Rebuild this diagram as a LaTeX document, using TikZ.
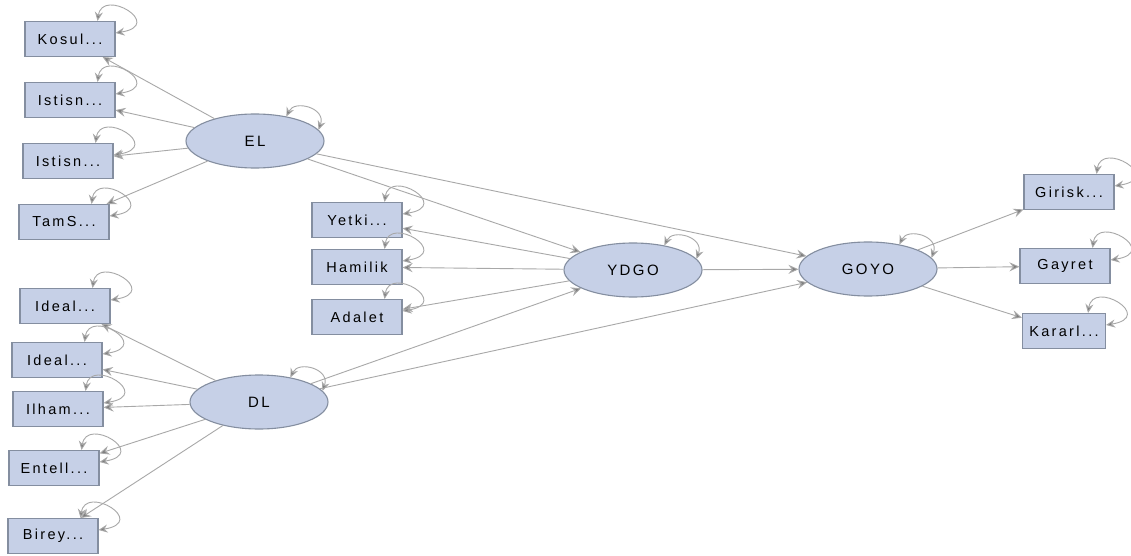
\documentclass[tikz,border=0pt]{standalone}
\usepackage{fontspec}
\setmainfont{Liberation Sans}
\usetikzlibrary{arrows.meta,shapes.geometric}
\definecolor{nodefill}{RGB}{198,208,231}
\definecolor{nodeline}{RGB}{132,142,160}
\definecolor{edgegray}{RGB}{168,168,168}
\newfontfamily\labelfont[LetterSpace=16]{Liberation Sans}
\tikzset{
  obsbox/.style={draw=nodeline, line width=1.1pt, fill=nodefill, rectangle,
    minimum width=90pt, minimum height=35pt, inner sep=0pt,
    font=\labelfont\fontsize{14.5}{16}\selectfont},
  latent/.style={draw=nodeline, line width=1.1pt, fill=nodefill, ellipse,
    minimum width=138pt, minimum height=54pt, inner sep=0pt,
    font=\labelfont\fontsize{15}{17}\selectfont},
  loading/.style={draw=edgegray, line width=0.9pt,
    -{Stealth[length=10pt,width=9pt,inset=3.5pt,fill=edgegray!75!black]}},
  variance/.style={draw=edgegray, line width=0.9pt,
    {Stealth[length=9pt,width=8pt,inset=3pt,fill=edgegray!75!black]}-{Stealth[length=9pt,width=8pt,inset=3pt,fill=edgegray!75!black]}}
}
\begin{document}
\begin{tikzpicture}[x=1pt,y=-1pt]
\fill[white] (0,0) rectangle (1131,556);
\useasboundingbox (0,0) rectangle (1131,556);

% latent factors
\node[latent] (el)   at (255,141) {EL};
\node[latent] (dl)   at (259,402) {DL};
\node[latent] (ydgo) at (633,270) {YDGO};
\node[latent] (goyo) at (868,269) {GOYO};

% indicators of EL
\node[obsbox] (kos)  at (70,39)   {Kosul...};
\node[obsbox] (ist1) at (70,100)  {Istisn...};
\node[obsbox] (ist2) at (68,161)  {Istisn...};
\node[obsbox] (tams) at (64,222)  {TamS...};

% indicators of YDGO
\node[obsbox] (yet)  at (357,220) {Yetki...};
\node[obsbox] (ham)  at (357,267) {Hamilik};
\node[obsbox] (ada)  at (357,317) {Adalet};

% indicators of DL
\node[obsbox] (ide1) at (65,306)  {Ideal...};
\node[obsbox] (ide2) at (57,360)  {Ideal...};
\node[obsbox] (ilh)  at (58,409)  {Ilham...};
\node[obsbox] (ent)  at (54,468)  {Entell...};
\node[obsbox] (bir)  at (53,536)  {Birey...};

% indicators of GOYO
\node[obsbox] (gir)  at (1069,192) {Girisk...};
\node[obsbox] (gay)  at (1065,266) {Gayret};
\node[obsbox, minimum width=83pt] (kar) at (1064,331) {Kararl...};

% loadings
\foreach \t in {kos,ist1,ist2,tams} \draw[loading] (el) -- (\t);
\foreach \t in {ide1,ide2,ilh,ent,bir} \draw[loading] (dl) -- (\t);
\foreach \t in {yet,ham,ada} \draw[loading] (ydgo) -- (\t);
\foreach \t in {gir,gay,kar} \draw[loading] (goyo) -- (\t);

% structural paths
\draw[loading] (el) -- (ydgo);
\draw[loading] (el) -- (goyo);
\draw[loading] (dl) -- (ydgo);
\draw[loading] (dl) -- (goyo);
\draw[loading] (ydgo) -- (goyo);

% variances of the indicators
\foreach \b in {kos,ist1,ist2,tams,yet,ham,ada,ide1,ide2,ilh,ent,bir,gir,gay,kar}
  \draw[variance] ([xshift=-18pt]\b.north east) .. controls +(5,-34) and +(50,-8) .. ([yshift=6pt]\b.east);

% variances of the factors
\foreach \f in {el,dl,ydgo,goyo}
  \draw[variance] (\f.38) .. controls +(8,-17) and +(8,-22) .. (\f.10);
\end{tikzpicture}
\end{document}
